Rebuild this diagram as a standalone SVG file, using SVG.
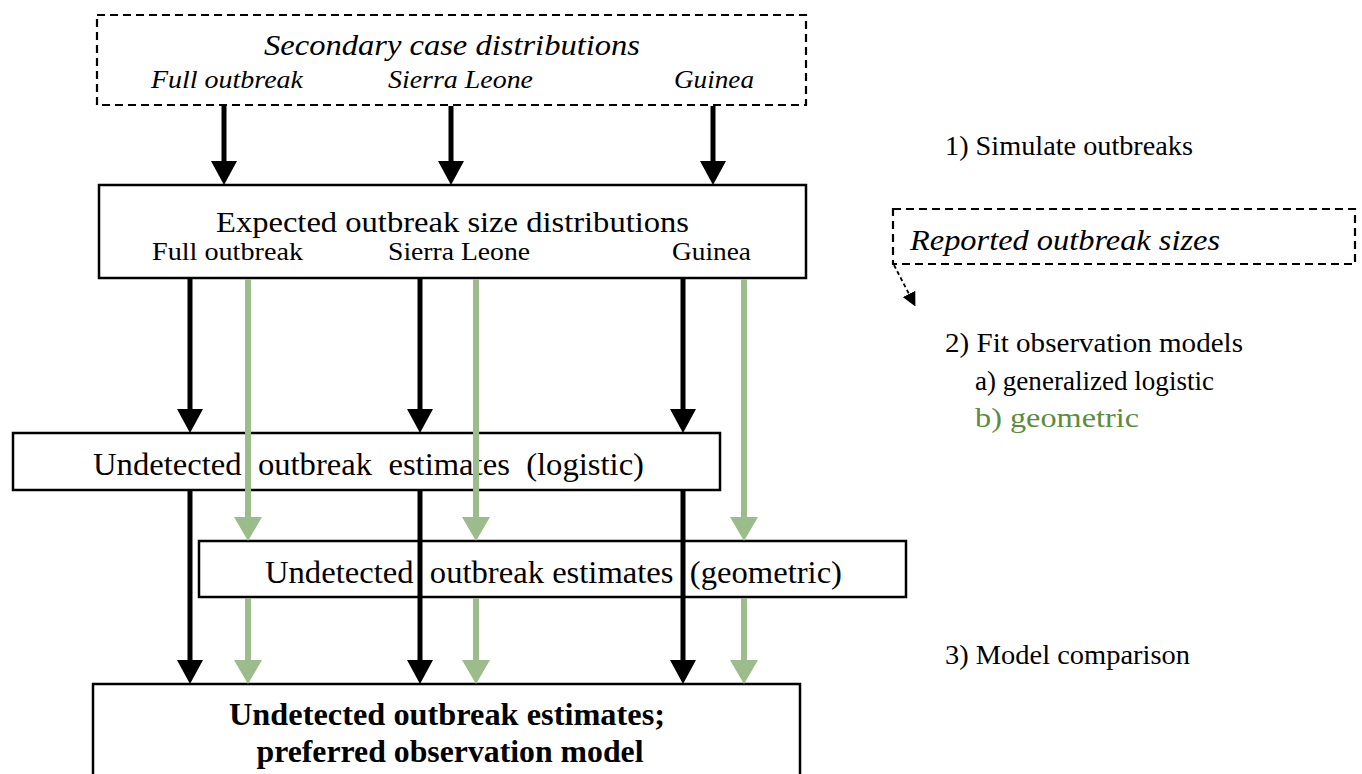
<svg xmlns="http://www.w3.org/2000/svg" width="1362" height="774" viewBox="0 0 1362 774">
<style>
.box{fill:#fff;stroke:#000;stroke-width:2.5}
.dbox{fill:none;stroke:#000;stroke-width:2.2;stroke-dasharray:8 5}
.t{font-family:"Liberation Serif","Times New Roman",serif;fill:#000}
.it{font-style:italic}
.blk{stroke:#000;stroke-width:5;fill:none}
.grn{stroke:#9cbc8b;stroke-width:6;fill:none}
.pre{white-space:pre}
</style>
<defs>
<marker id="ab" markerUnits="userSpaceOnUse" viewBox="0 0 24 26" refX="0" refY="13" markerWidth="24" markerHeight="26" orient="auto">
<path d="M0,0 L24,13 L0,26 z" fill="#000"/>
</marker>
<marker id="ag" markerUnits="userSpaceOnUse" viewBox="0 0 24 28" refX="0" refY="14" markerWidth="24" markerHeight="28" orient="auto">
<path d="M0,0 L24,14 L0,28 z" fill="#9cbc8b"/>
</marker>
<marker id="ad" markerUnits="userSpaceOnUse" viewBox="0 0 14 14" refX="0" refY="7" markerWidth="14" markerHeight="14" orient="auto">
<path d="M0,0 L14,7 L0,14 z" fill="#000"/>
</marker>
</defs>

<g id="secondary">
<rect class="dbox" x="97" y="15" width="709" height="90"/>
<text class="t it" x="452" y="55" font-size="30" text-anchor="middle" textLength="376" lengthAdjust="spacingAndGlyphs">Secondary case distributions</text>
<text class="t it" x="151" y="88" font-size="25" textLength="152" lengthAdjust="spacingAndGlyphs">Full outbreak</text>
<text class="t it" x="388" y="88" font-size="25" textLength="145" lengthAdjust="spacingAndGlyphs">Sierra Leone</text>
<text class="t it" x="674" y="88" font-size="25" textLength="80" lengthAdjust="spacingAndGlyphs">Guinea</text>
</g>

<g id="expected">
<rect class="box" x="99" y="185" width="707" height="93"/>
<text class="t" x="216" y="232" font-size="30" textLength="473" lengthAdjust="spacingAndGlyphs">Expected outbreak size distributions</text>
<text class="t" x="152" y="260" font-size="25" textLength="151" lengthAdjust="spacingAndGlyphs">Full outbreak</text>
<text class="t" x="388" y="260" font-size="25" textLength="142" lengthAdjust="spacingAndGlyphs">Sierra Leone</text>
<text class="t" x="672" y="260" font-size="25" textLength="79" lengthAdjust="spacingAndGlyphs">Guinea</text>
</g>

<g id="logistic">
<rect class="box" x="13" y="433" width="707" height="57"/>
<text class="t pre" x="93" y="475" font-size="31" textLength="551" lengthAdjust="spacingAndGlyphs">Undetected  outbreak  estimates  (logistic)</text>
</g>

<g id="geometric">
<rect class="box" x="199" y="541" width="707" height="56"/>
<text class="t pre" x="265" y="583" font-size="31" textLength="577" lengthAdjust="spacingAndGlyphs">Undetected  outbreak estimates  (geometric)</text>
</g>

<g id="final">
<rect class="box" x="93" y="684" width="707" height="110"/>
<text class="t" x="447" y="725" font-size="31" font-weight="bold" text-anchor="middle" textLength="436" lengthAdjust="spacingAndGlyphs">Undetected outbreak estimates;</text>
<text class="t" x="450" y="762" font-size="31" font-weight="bold" text-anchor="middle" textLength="387" lengthAdjust="spacingAndGlyphs">preferred observation model</text>
</g>

<g id="reported">
<rect class="dbox" x="893" y="209" width="462" height="55"/>
<text class="t it" x="910" y="250" font-size="30" textLength="310" lengthAdjust="spacingAndGlyphs">Reported outbreak sizes</text>
</g>

<g id="steps">
<text class="t" x="945" y="155" font-size="28" textLength="248" lengthAdjust="spacingAndGlyphs">1) Simulate outbreaks</text>
<text class="t" x="945" y="352" font-size="28" textLength="298" lengthAdjust="spacingAndGlyphs">2) Fit observation models</text>
<text class="t" x="975" y="390" font-size="28" textLength="239" lengthAdjust="spacingAndGlyphs">a) generalized logistic</text>
<text class="t" x="975" y="427" font-size="28" style="fill:#5b8c3e" textLength="164" lengthAdjust="spacingAndGlyphs">b) geometric</text>
<text class="t" x="945" y="664" font-size="28" textLength="245" lengthAdjust="spacingAndGlyphs">3) Model comparison</text>
</g>

<g id="connectors">
<path class="blk" d="M224,106 V161" marker-end="url(#ab)"/>
<path class="blk" d="M451,106 V161" marker-end="url(#ab)"/>
<path class="blk" d="M713,106 V161" marker-end="url(#ab)"/>

<path class="blk" d="M190,279 V409" marker-end="url(#ab)"/>
<path class="blk" d="M420,279 V409" marker-end="url(#ab)"/>
<path class="blk" d="M683,279 V409" marker-end="url(#ab)"/>

<path class="grn" d="M248,279 V517" marker-end="url(#ag)"/>
<path class="grn" d="M476,279 V517" marker-end="url(#ag)"/>
<path class="grn" d="M744,279 V517" marker-end="url(#ag)"/>

<path class="blk" d="M190,491 V660" marker-end="url(#ab)"/>
<path class="blk" d="M420,491 V660" marker-end="url(#ab)"/>
<path class="blk" d="M683,491 V660" marker-end="url(#ab)"/>

<path class="grn" d="M248,598 V660" marker-end="url(#ag)"/>
<path class="grn" d="M476,598 V660" marker-end="url(#ag)"/>
<path class="grn" d="M744,598 V660" marker-end="url(#ag)"/>

<path d="M894,265 L909,294" stroke="#000" stroke-width="1.8" stroke-dasharray="4 3" fill="none" marker-end="url(#ad)"/>
</g>
</svg>
